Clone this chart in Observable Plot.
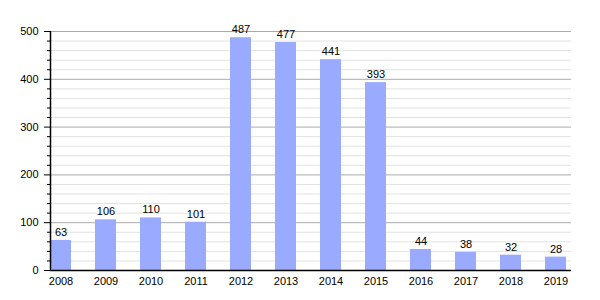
<!DOCTYPE html>
<html>
<head>
<meta charset="utf-8">
<script src="https://cdn.jsdelivr.net/npm/d3@7"></script>
<script src="https://cdn.jsdelivr.net/npm/@observablehq/plot@0.6"></script>
<style>
  body { margin: 0; background: #fff; }
  svg { font-family: "Liberation Sans", Arial, sans-serif; }
</style>
</head>
<body>
<div id="chart"></div>
<script>
const years = ["2008","2009","2010","2011","2012","2013","2014","2015","2016","2017","2018","2019"];
const counts = [63, 106, 110, 101, 487, 477, 441, 393, 44, 38, 32, 28];
const majorTicks = [0, 100, 200, 300, 400, 500];
const minorTicks = [20, 40, 60, 80, 120, 140, 160, 180, 220, 240, 260, 280, 320, 340, 360, 380, 420, 440, 460, 480];

const data = years.map((y, i) => ({year: y, count: counts[i]}));

const chart = Plot.plot({
  width: 600,
  height: 300,
  marginLeft: 50,
  marginRight: 29,
  marginTop: 31,
  marginBottom: 30,
  style: {fontSize: "11px", fontFamily: "Liberation Sans, Arial, sans-serif", color: "#000", background: "#fff"},
  x: {type: "band", domain: years, paddingInner: 0.538, paddingOuter: 0, align: 0},
  y: {domain: [0, 500]},
  marks: [
    Plot.ruleY(minorTicks, {stroke: "#e2e2e2", strokeWidth: 1}),
    Plot.ruleY(majorTicks, {stroke: "#aaaaaa", strokeWidth: 1}),
    Plot.barY(data, {x: "year", y: "count", fill: "#99aaff"}),
    Plot.text(data, {x: "year", y: "count", text: d => String(d.count), dy: -8, fill: "#000", fontSize: 11}),
    Plot.axisY({ticks: minorTicks, tickSize: 3, tickFormat: () => "", label: null, stroke: "#000"}),
    Plot.axisY({ticks: majorTicks, tickSize: 6, tickPadding: 6, label: null, stroke: "#000"}),
    Plot.ruleX([years[0]], {x: d => d, y1: 0, y2: 500, dx: -10.5, stroke: "#000", strokeWidth: 1.5}),
    Plot.axisX({tickSize: 0, tickPadding: 7, label: null}),
    Plot.ruleY([0], {stroke: "#000", strokeWidth: 1.5})
  ]
});
document.getElementById("chart").appendChild(chart);
</script>
</body>
</html>
